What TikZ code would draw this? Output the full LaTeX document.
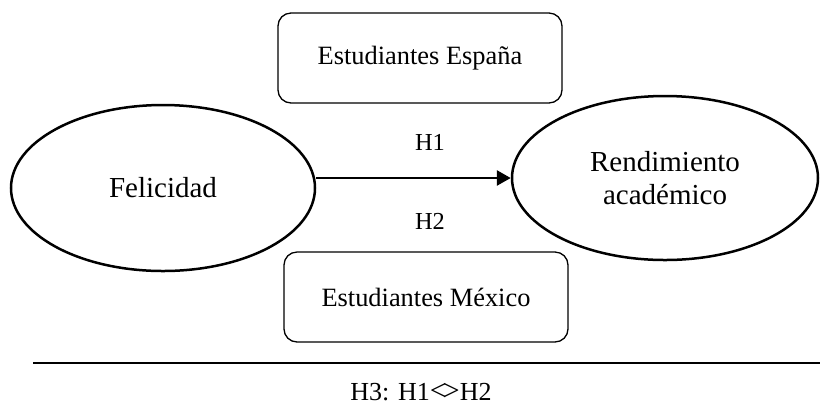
\documentclass[tikz,border=0pt]{standalone}
\usepackage{fontspec}
\setmainfont{Liberation Serif}
\usetikzlibrary{shapes.geometric,arrows.meta}
\begin{document}
\begin{tikzpicture}[x=0.5pt,y=-0.5pt,
  oval/.style={draw,ellipse,line width=1.25pt,inner sep=0pt,align=center,
    font=\fontsize{14.5pt}{16.5pt}\selectfont},
  groupbox/.style={draw,rounded corners=6.5pt,line width=0.65pt,inner sep=0pt,
    minimum width=142pt,minimum height=45pt,font=\fontsize{13.2pt}{15pt}\selectfont},
  hlabel/.style={anchor=base,inner sep=0pt,font=\fontsize{12.2pt}{14pt}\selectfont},
  arr/.style={line width=1.4pt,-{Triangle[length=7pt,width=7.5pt]}}]
\useasboundingbox (0,0) rectangle (820,404);
\node[oval,minimum width=152pt,minimum height=83pt] (fel) at (163,188) {Felicidad};
\node[oval,minimum width=153pt,minimum height=82pt] (rend) at (665,178) {Rendimiento\\acad\'emico};
\node[groupbox] (esp) at (420,58) {Estudiantes España};
\node[groupbox] (mex) at (426,297) {Estudiantes México};
\draw[arr] (fel.east |- rend.west) -- (rend.west);
\node[hlabel] (h1) at (430,150) {H1};
\node[hlabel] (h2) at (430,229) {H2};
\coordinate (l1) at (33,363);
\coordinate (l2) at (820,363);
\draw[line width=1.1pt] (l1) -- (l2);
\node[hlabel,font=\fontsize{13pt}{15pt}\selectfont] (h3) at (421,400) {H3: H1\scalebox{1.15}{<\kern-0.13em>}H2};
\end{tikzpicture}
\end{document}
